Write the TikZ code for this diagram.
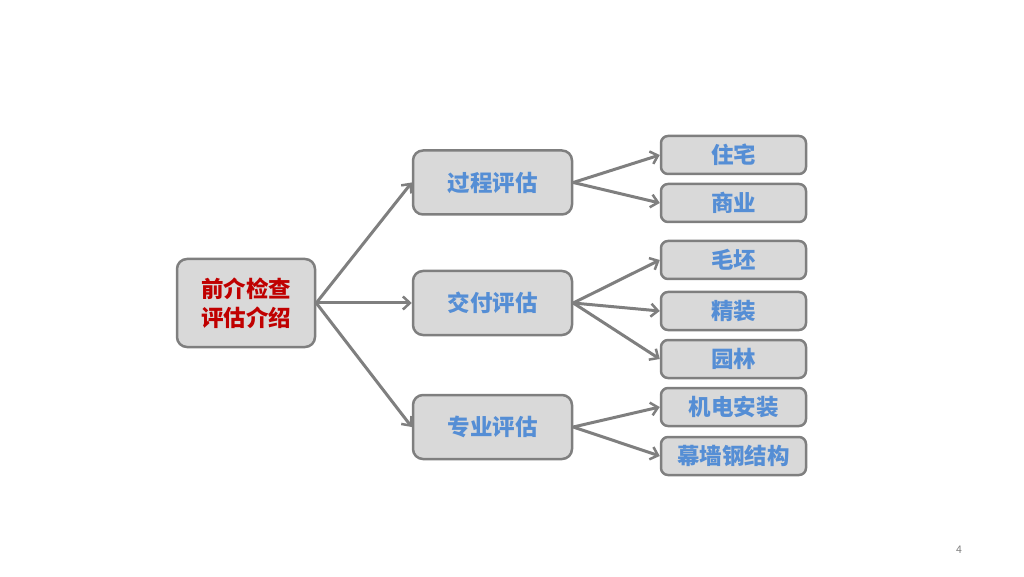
\documentclass[tikz,border=0pt]{standalone}
\usepackage{fontspec}
\setmainfont{Noto Sans CJK SC}
\usetikzlibrary{arrows.meta}
\definecolor{boxline}{RGB}{127,127,127}
\definecolor{boxfill}{RGB}{217,217,217}
\definecolor{textblue}{RGB}{85,142,213}
\definecolor{textred}{RGB}{192,0,0}

\begin{document}
\begin{tikzpicture}[x=1pt, y=1pt,
    box/.style={draw=boxline, line width=2.5pt, fill=boxfill, rounded corners=10pt,
        inner sep=0pt, align=center, font=\fontsize{22.5}{29}\selectfont\bfseries},
    rootbox/.style={box, minimum width=138pt, minimum height=88pt, text=textred},
    midbox/.style={box, minimum width=159pt, minimum height=64pt, text=textblue},
    leafbox/.style={box, rounded corners=7pt, minimum width=145pt, minimum height=38pt, text=textblue},
    link/.style={draw=boxline, line width=3pt, -{Straight Barb[length=7pt,width=13pt,line width=2.5pt]}}]
    \useasboundingbox (0,0) rectangle (1024,576);
    % root and second level
    \node[rootbox] (root) at (246,273) {前介检查\\评估介绍};
    \node[midbox] (proc) at (492.5,393.5) {过程评估};
    \node[midbox] (deliv) at (492.5,273) {交付评估};
    \node[midbox] (spec) at (492.5,149) {专业评估};
    % leaves
    \node[leafbox] (house) at (733.5,421) {住宅};
    \node[leafbox] (comm) at (733.5,373) {商业};
    \node[leafbox] (rough) at (733.5,316) {毛坯};
    \node[leafbox] (fine) at (733.5,265) {精装};
    \node[leafbox] (garden) at (733.5,217) {园林};
    \node[leafbox] (mep) at (733.5,169) {机电安装};
    \node[leafbox] (curtain) at (733.5,120) {幕墙钢结构};
    % connectors
    \foreach \m in {proc,deliv,spec}
        \draw[link] (root.east) -- (\m.west);
    \foreach \l in {house,comm}
        \draw[link] (proc.east) -- (\l.west);
    \foreach \l in {rough,fine,garden}
        \draw[link] (deliv.east) -- (\l.west);
    \foreach \l in {mep,curtain}
        \draw[link] (spec.east) -- (\l.west);
    % page number
    \node[text=boxline, font=\fontsize{10.5}{12}\selectfont] (page) at (959,26) {4};
\end{tikzpicture}
\end{document}
